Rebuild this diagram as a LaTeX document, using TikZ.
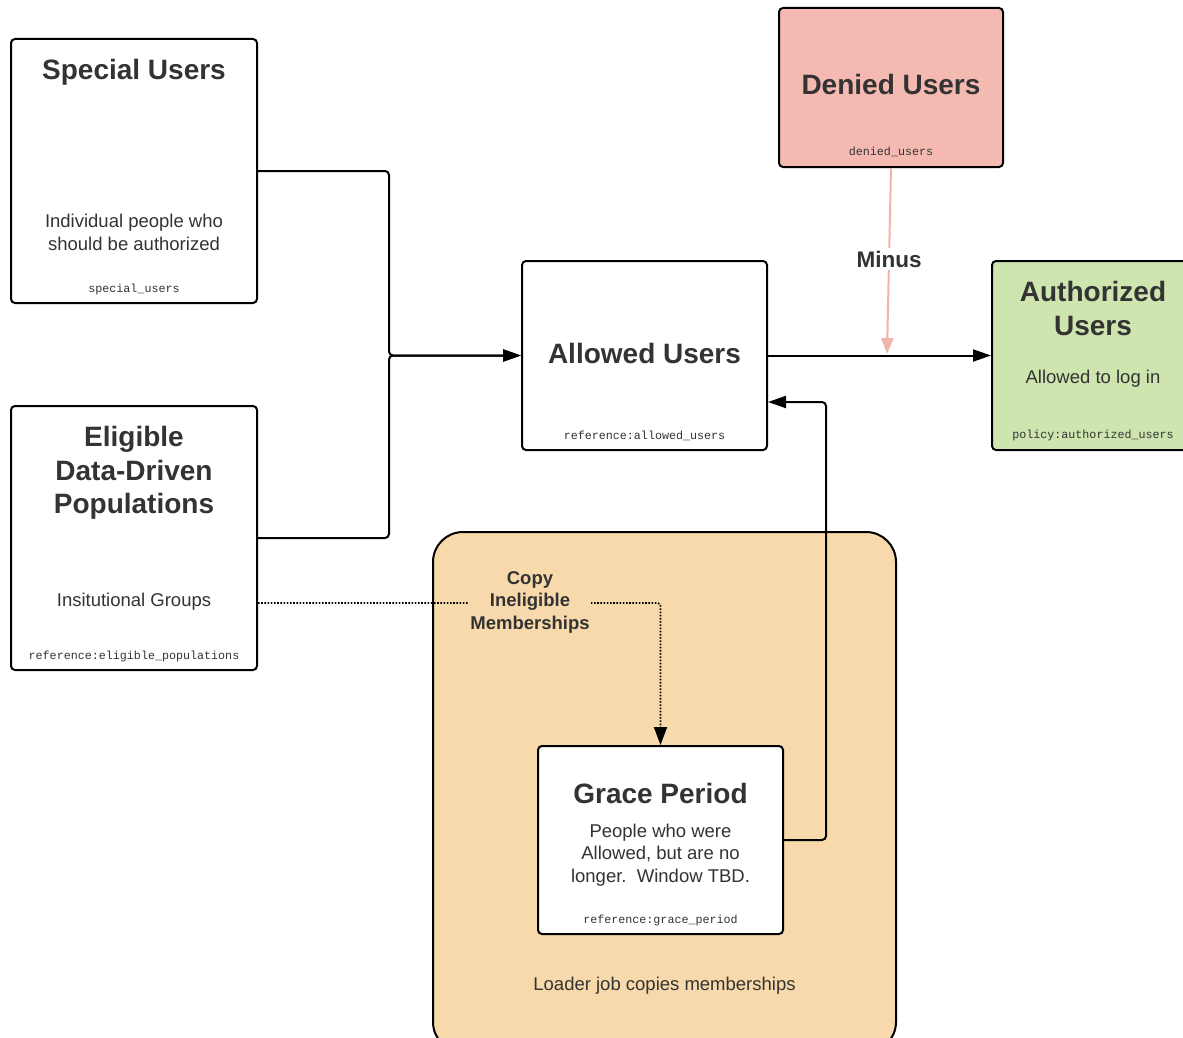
\documentclass[tikz,border=0pt]{standalone}
\usepackage{fontspec}
\setmainfont{Liberation Sans}
\setmonofont{Liberation Mono}
\usetikzlibrary{arrows.meta,calc}
\definecolor{ink}{HTML}{333333}
\definecolor{deniedfill}{HTML}{F4BAB2}
\definecolor{authfill}{HTML}{CEE5B0}
\definecolor{loaderfill}{HTML}{F8D9AB}
\definecolor{minuspink}{HTML}{F2B3AA}
\begin{document}
\begin{tikzpicture}[x=1pt,y=-1pt,
  box/.style={draw=black, line width=2pt, rounded corners=4pt, fill=white, inner sep=0pt},
  ttl/.style={font=\fontsize{28}{33.5}\selectfont\bfseries, text=ink, align=center},
  body/.style={font=\fontsize{18.5}{22.5}\selectfont, text=ink, align=center},
  code/.style={font=\fontsize{11.7}{13}\selectfont\ttfamily, text=ink},
  lbl/.style={font=\fontsize{18.5}{22.5}\selectfont\bfseries, text=ink, align=center, inner sep=2pt},
  conn/.style={draw=black, line width=2pt, rounded corners=4pt},
  tip/.style={-{Triangle[length=18pt,width=12pt]}},
]
\useasboundingbox (0,0) rectangle (1183,1038);

% loader job container
\node[draw=black, line width=2pt, rounded corners=30pt, fill=loaderfill,
      minimum width=463pt, minimum height=520pt, inner sep=0pt] (loader) at (664.5,792) {};

% boxes
\node[box, minimum width=246pt, minimum height=264pt] (su) at (134,171) {};
\node[box, minimum width=246pt, minimum height=264pt] (ep) at (134,538) {};
\node[box, minimum width=245pt, minimum height=189pt] (al) at (644.5,355.5) {};
\node[box, fill=deniedfill, minimum width=224pt, minimum height=159pt] (dn) at (891,87.5) {};
\node[box, fill=authfill, minimum width=202pt, minimum height=189pt] (az) at (1093,355.5) {};
\node[box, minimum width=245pt, minimum height=188pt] (gp) at (660.5,840) {};

% texts: special users
\node[ttl] (suT) at (134,72) {Special Users};
\node[body] (suB) at (134,232.5) {Individual people who\\should be authorized};
\node[code] (suC) at (134,289) {special\_users};

% eligible populations
\node[ttl] (epT) at (134,473) {Eligible\\Data-Driven\\Populations};
\node[body] (epB) at (134,602) {Insitutional Groups};
\node[code] (epC) at (134,656) {reference:eligible\_populations};

% allowed users
\node[ttl] (alT) at (644.5,353) {Allowed Users};
\node[code] (alC) at (644.5,435.5) {reference:allowed\_users};

% denied users
\node[ttl] (dnT) at (891,84) {Denied Users};
\node[code] (dnC) at (891,151.5) {denied\_users};

% authorized users
\node[ttl] (azT) at (1093,308.5) {Authorized\\Users};
\node[body] (azB) at (1093,379) {Allowed to log in};
\node[code] (azC) at (1093,435.5) {policy:authorized\_users};

% grace period
\node[ttl] (gpT) at (660.5,793) {Grace Period};
\node[body] (gpB) at (660.5,855) {People who were\\Allowed, but are no\\longer.\ \ Window TBD.};
\node[code] (gpC) at (660.5,920.5) {reference:grace\_period};

\node[body] (ldB) at (664.5,986) {Loader job copies memberships};

% merge of the two sources into allowed users
\coordinate (j) at (389,355.5);
\draw[conn, tip] (su.east) -| (j) -- (al.west);
\draw[conn, tip] (ep.east) -| (j) -- (al.west);

% allowed -> authorized
\draw[conn, tip] (al.east) -- (az.west);

% denied users subtracted
\coordinate (m) at (887,354);
\draw[draw=minuspink, line width=2pt, -{Triangle[length=16pt,width=12pt]}] (dn.south) -- (m);
\node[fill=white, font=\fontsize{22.5}{26}\selectfont\bfseries, text=ink, inner sep=3pt] (minus) at (889,259) {Minus};

% grace period feeds back into allowed users
\coordinate (g) at (826,402);
\draw[conn, tip] (gp.east) -| (g) -- (g -| al.east);

% copy of ineligible memberships
\draw[line width=1.8pt, dash pattern=on 1.6pt off 1.6pt, rounded corners=3pt,
      -{Triangle[length=18pt,width=13pt]}]
  ($(ep.east)+(0,65)$) -| (gp.north);
\node[lbl, fill=loaderfill, inner xsep=1pt] (copy) at (530,602) {Copy\\Ineligible\\Memberships};

\end{tikzpicture}
\end{document}
